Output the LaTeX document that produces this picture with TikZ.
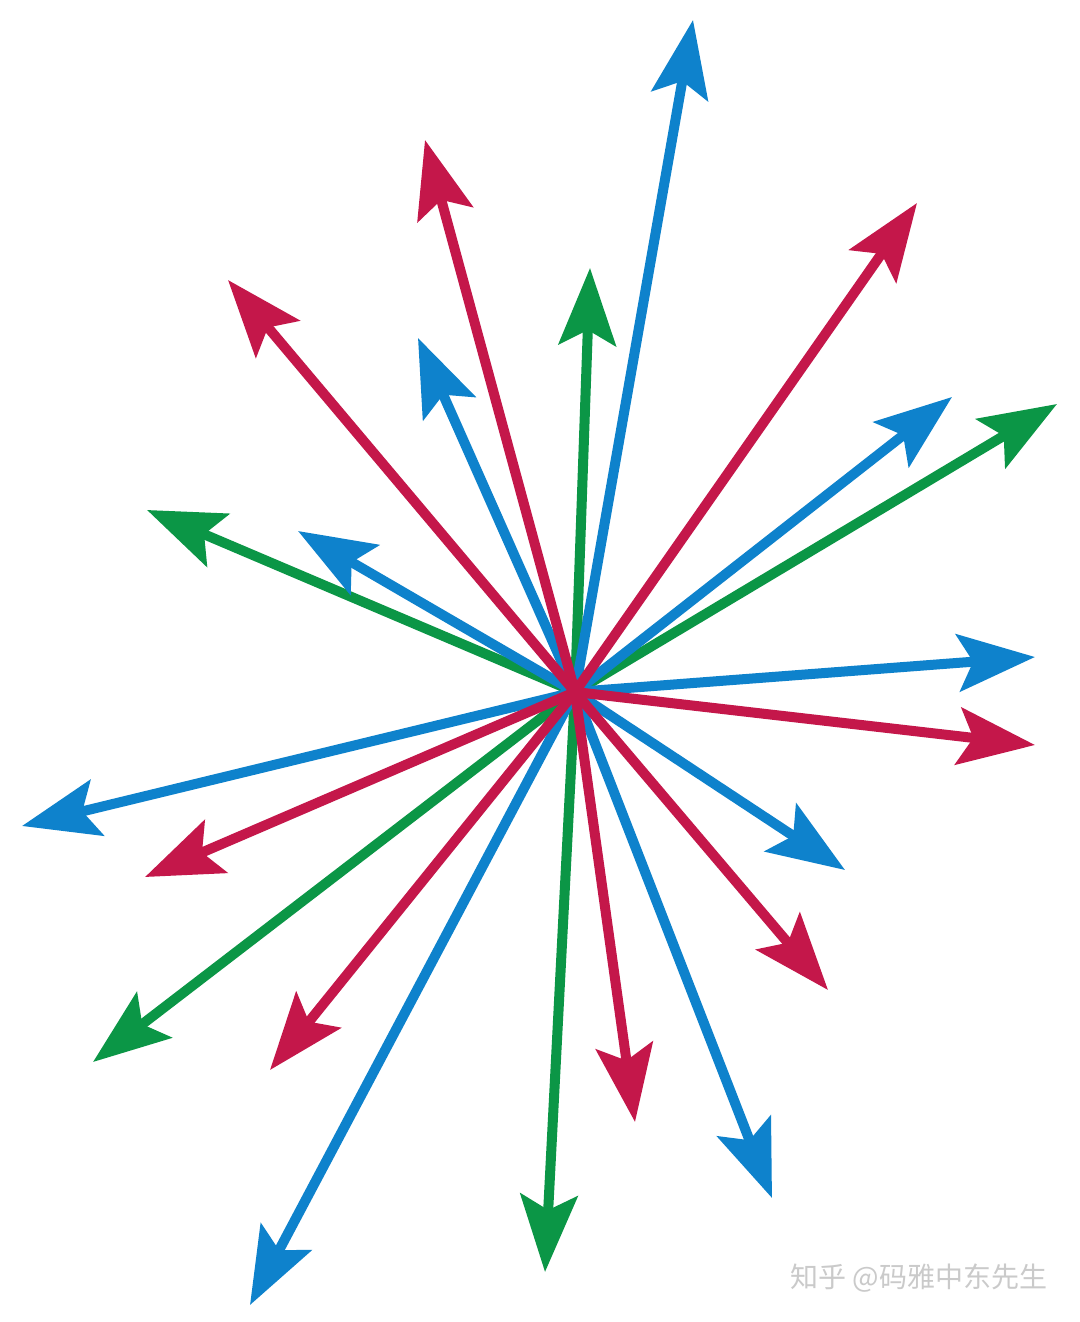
\documentclass[tikz,border=0pt]{standalone}
\usepackage{fontspec}
\newfontfamily\cjk{Noto Sans CJK SC}
\usetikzlibrary{arrows.meta}
\definecolor{ablue}{HTML}{0E82CC}
\definecolor{ared}{HTML}{C4174A}
\definecolor{agreen}{HTML}{0B9646}
\definecolor{wmark}{HTML}{CACACA}
\begin{document}
\begin{tikzpicture}[x=0.5pt,y=-0.5pt,
  ray/.style={line width=5pt, -{Stealth[length=38.5pt,width=28.5pt,inset=7.5pt]}},
  bray/.style={ray, draw=ablue, fill=ablue},
  rray/.style={ray, draw=ared, fill=ared},
  gray/.style={ray, draw=agreen, fill=agreen}]
\useasboundingbox (0,0) rectangle (1080,1322);
\fill[white] (0,0) rectangle (1080,1322);
\coordinate (c) at (575,692);
% tips
\coordinate (b1) at (693,20);
\coordinate (b2) at (418,338);
\coordinate (b3) at (298,531);
\coordinate (b4) at (952,397);
\coordinate (b5) at (1035,657);
\coordinate (b6) at (22,826);
\coordinate (b7) at (845,870);
\coordinate (b8) at (772,1198);
\coordinate (b9) at (250,1305);
\coordinate (r1) at (425,140);
\coordinate (r2) at (228,280);
\coordinate (r3) at (917,203);
\coordinate (r4) at (1035,745);
\coordinate (r5) at (145,877);
\coordinate (r6) at (828,990);
\coordinate (r7) at (635,1122);
\coordinate (r8) at (270,1070);
\coordinate (g1) at (590,268);
\coordinate (g2) at (147,510);
\coordinate (g3) at (1057,404);
\coordinate (g4) at (93,1062);
\coordinate (g5) at (545,1272);
\foreach \t in {g1,g2,g3,g4,g5} \draw[gray] (c) -- (\t);
\foreach \t in {b1,b2,b3,b4,b5,b6,b7,b8,b9} \draw[bray] (c) -- (\t);
\foreach \t in {r1,r2,r3,r4,r5,r6,r7,r8} \draw[rray] (c) -- (\t);
\node[anchor=west, text=wmark, font=\cjk\fontsize{14pt}{16pt}\selectfont, inner sep=0pt] (wm) at (790,1278) {知乎 @码雅中东先生};
\end{tikzpicture}
\end{document}
